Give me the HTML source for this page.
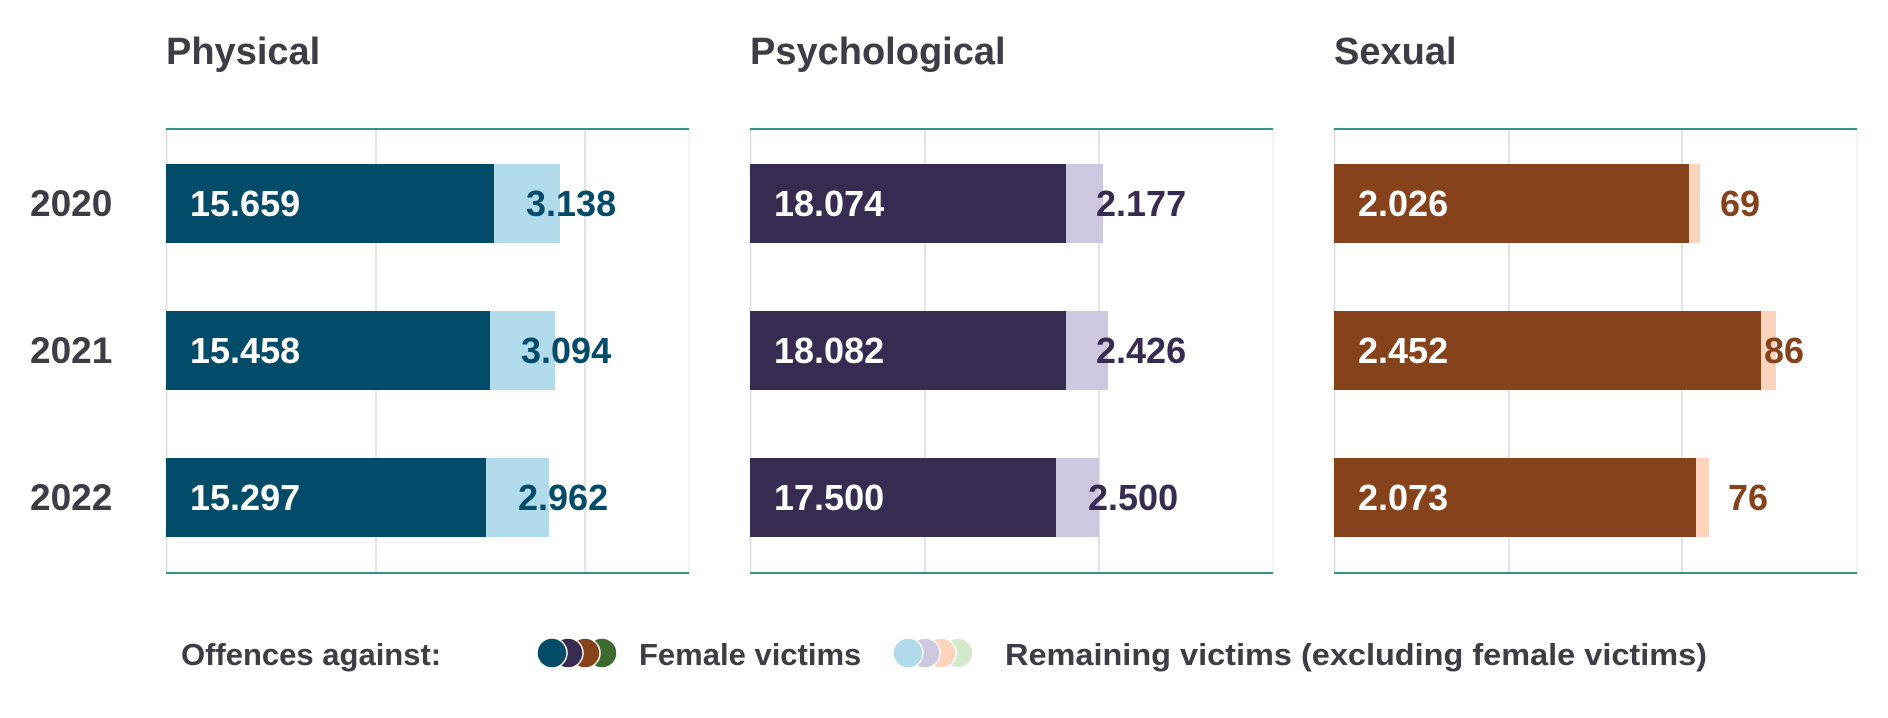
<!DOCTYPE html>
<html><head><meta charset="utf-8"><style>
html,body{margin:0;padding:0;background:#fff;}
svg{display:block;}
text{font-family:"Liberation Sans",sans-serif;font-weight:bold;}
</style></head><body>
<svg width="1888" height="718" viewBox="0 0 1888 718" xmlns="http://www.w3.org/2000/svg">
<g fill="#3c3d45" font-size="38">
<text x="166" y="64">Physical</text>
<text x="750" y="64">Psychological</text>
<text x="1334" y="64">Sexual</text>
</g>
<g fill="#3c3d45" font-size="37">
<text x="30" y="216">2020</text>
<text x="30" y="363">2021</text>
<text x="30" y="510">2022</text>
</g>
<g stroke="#dcdcdc" stroke-width="1.5">
<line x1="166.5" y1="129" x2="166.5" y2="573"/><line x1="376" y1="129" x2="376" y2="573"/><line x1="585" y1="129" x2="585" y2="573"/><line x1="689" y1="129" x2="689" y2="573" stroke="#f0f0f0"/>
<line x1="750.5" y1="129" x2="750.5" y2="573"/><line x1="925" y1="129" x2="925" y2="573"/><line x1="1099" y1="129" x2="1099" y2="573"/><line x1="1273" y1="129" x2="1273" y2="573" stroke="#f0f0f0"/>
<line x1="1334.5" y1="129" x2="1334.5" y2="573"/><line x1="1509" y1="129" x2="1509" y2="573"/><line x1="1682" y1="129" x2="1682" y2="573"/><line x1="1857" y1="129" x2="1857" y2="573" stroke="#f0f0f0"/>
</g>
<g stroke="#2f9688" stroke-width="2">
<line x1="166" y1="129" x2="689" y2="129"/><line x1="166" y1="573" x2="689" y2="573"/>
<line x1="750" y1="129" x2="1273" y2="129"/><line x1="750" y1="573" x2="1273" y2="573"/>
<line x1="1334" y1="129" x2="1857" y2="129"/><line x1="1334" y1="573" x2="1857" y2="573"/>
</g>
<rect x="166" y="164" width="394" height="79" fill="#b1dbeb"/><rect x="166" y="164" width="328" height="79" fill="#024c6a"/>
<rect x="166" y="311" width="389" height="79" fill="#b1dbeb"/><rect x="166" y="311" width="324" height="79" fill="#024c6a"/>
<rect x="166" y="458" width="383" height="79" fill="#b1dbeb"/><rect x="166" y="458" width="320" height="79" fill="#024c6a"/>
<rect x="750" y="164" width="353" height="79" fill="#cdc8df"/><rect x="750" y="164" width="316" height="79" fill="#382b51"/>
<rect x="750" y="311" width="358" height="79" fill="#cdc8df"/><rect x="750" y="311" width="316" height="79" fill="#382b51"/>
<rect x="750" y="458" width="349" height="79" fill="#cdc8df"/><rect x="750" y="458" width="306" height="79" fill="#382b51"/>
<rect x="1334" y="164" width="366" height="79" fill="#fcd4bb"/><rect x="1334" y="164" width="355" height="79" fill="#86421a"/>
<rect x="1334" y="311" width="442" height="79" fill="#fcd4bb"/><rect x="1334" y="311" width="427" height="79" fill="#86421a"/>
<rect x="1334" y="458" width="375" height="79" fill="#fcd4bb"/><rect x="1334" y="458" width="362" height="79" fill="#86421a"/>
<g font-size="36" fill="#fff">
<text x="190" y="216">15.659</text><text x="190" y="363">15.458</text><text x="190" y="510">15.297</text>
<text x="774" y="216">18.074</text><text x="774" y="363">18.082</text><text x="774" y="510">17.500</text>
<text x="1358" y="216">2.026</text><text x="1358" y="363">2.452</text><text x="1358" y="510">2.073</text>
</g>
<g font-size="36" fill="#024c6a">
<text x="526" y="216">3.138</text><text x="521" y="363">3.094</text><text x="518" y="510">2.962</text>
</g>
<g font-size="36" fill="#382b51">
<text x="1096" y="216">2.177</text><text x="1096" y="363">2.426</text><text x="1088" y="510">2.500</text>
</g>
<g font-size="36" fill="#86421a">
<text x="1720" y="216">69</text><text x="1764" y="363">86</text><text x="1728" y="510">76</text>
</g>
<text x="181" y="665" font-size="31" fill="#3c3d45">Offences against:</text>
<g stroke="#fff" stroke-width="1.5">
<circle cx="602" cy="653" r="15" fill="#3d6b2f"/><circle cx="585" cy="653" r="15" fill="#86421a"/><circle cx="568" cy="653" r="15" fill="#382b51"/><circle cx="552" cy="653" r="15" fill="#024c6a"/>
<circle cx="958" cy="653" r="15" fill="#d3ebcc"/><circle cx="941" cy="653" r="15" fill="#fcd4bb"/><circle cx="925" cy="653" r="15" fill="#cdc8df"/><circle cx="908" cy="653" r="15" fill="#b1dbeb"/>
</g>
<text x="639" y="665" font-size="31" fill="#3c3d45">Female victims</text>
<text x="1005" y="665" font-size="31" fill="#3c3d45" textLength="702" lengthAdjust="spacingAndGlyphs">Remaining victims (excluding female victims)</text>
</svg>
</body></html>
